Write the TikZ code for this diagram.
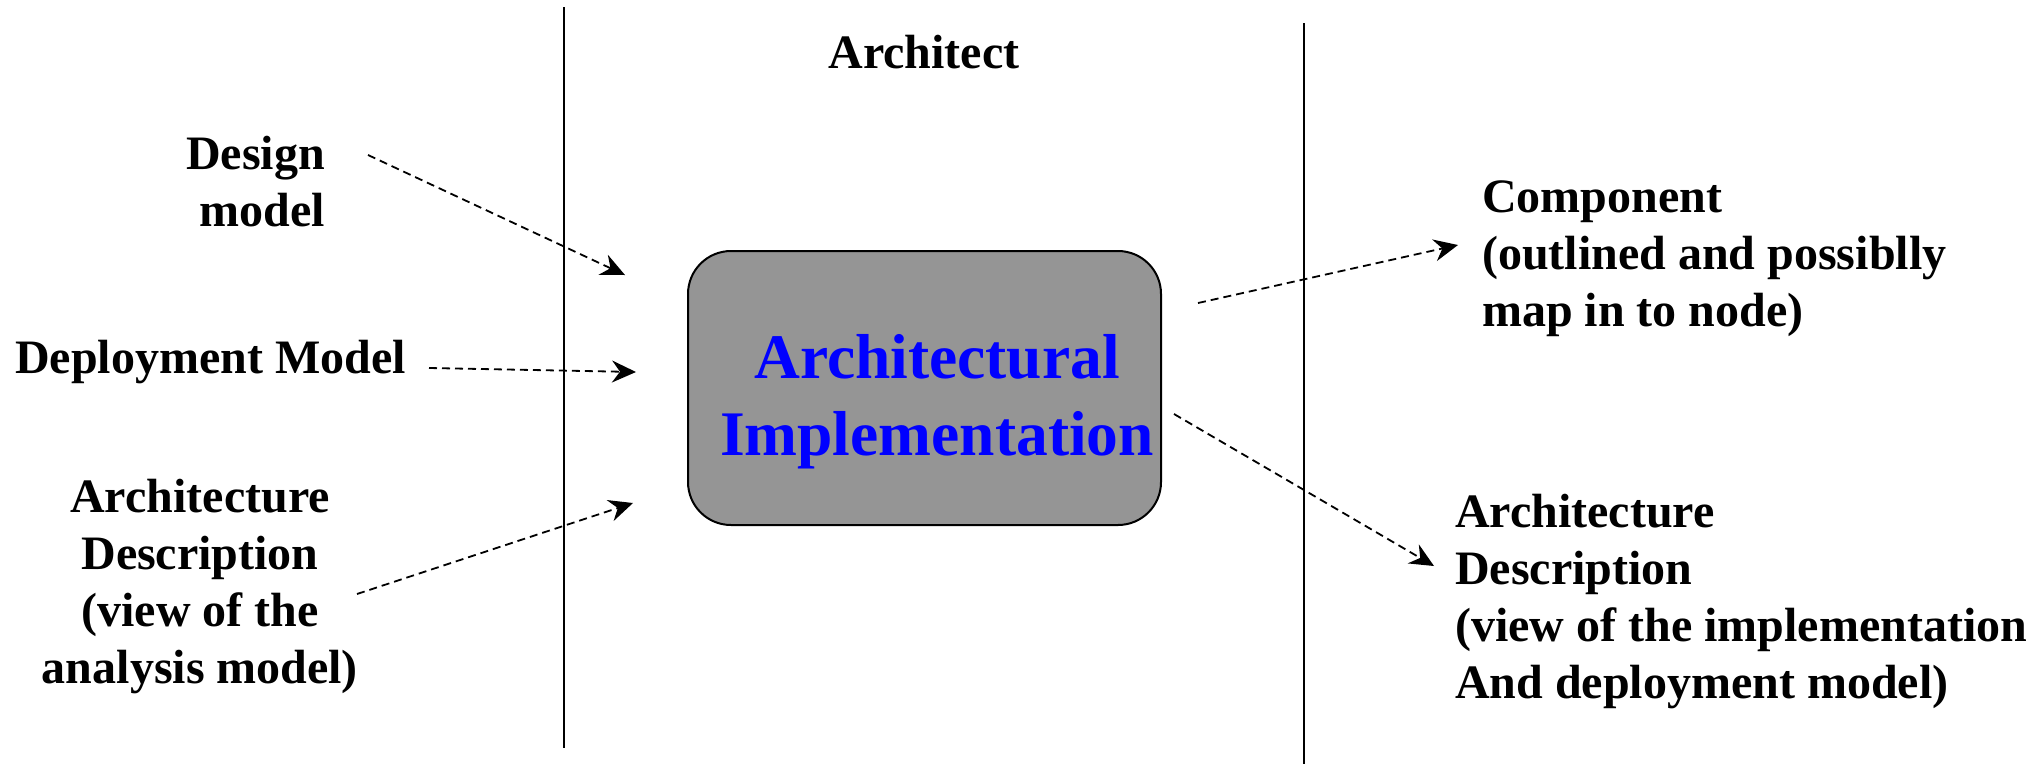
\documentclass[tikz,border=0pt]{standalone}
\usepackage{fontspec}
\setmainfont{Liberation Serif}
\usetikzlibrary{arrows.meta}
\definecolor{boxgray}{RGB}{149,149,149}
\begin{document}
\begin{tikzpicture}[x=1pt,y=-1pt,
  lbl/.style={font=\fontsize{48}{57}\selectfont\bfseries, inner sep=0pt},
  bigtxt/.style={font=\fontsize{63.5}{77}\selectfont\bfseries, text=blue, inner sep=0pt, align=center},
  flow/.style={line width=1.8pt, dash pattern=on 8pt off 5pt, -{Stealth[length=24pt,width=22pt,inset=8pt]}},
  divider/.style={line width=2pt},
  implbox/.style={draw, line width=2pt, fill=boxgray, rounded corners=43pt, minimum width=473pt, minimum height=274pt, inner sep=0pt}]
\useasboundingbox (0,0) rectangle (2036,764);
% dividers
\coordinate (l1top) at (564,7);
\coordinate (l1bot) at (564,748);
\coordinate (l2top) at (1304,23);
\coordinate (l2bot) at (1304,764);
\draw[divider] (l1top) -- (l1bot);
\draw[divider] (l2top) -- (l2bot);
% labels (base anchor = baseline of the last line)
\node[lbl, anchor=base] (arch) at (924,68) {Architect};
\node[lbl, anchor=base east, align=right] (design) at (325,226) {Design\\model};
\node[lbl, anchor=base west] (deploy) at (15,373) {Deployment Model};
\node[lbl, anchor=base, align=center] (adesc) at (200,683) {Architecture\\Description\\(view of the\\analysis model)};
\node[lbl, anchor=base west, align=left] (comp) at (1482,326) {Component\\(outlined and possiblly\\map in to node)};
\node[lbl, anchor=base west, align=left] (idesc) at (1455,698) {Architecture\\Description\\(view of the implementation\\And deployment model)};
% central box
\node[implbox] (impl) at (924.5,388) {};
\node[bigtxt, anchor=base] (impltext) at (937,455) {Architectural\\Implementation};
% arrow ends
\coordinate (d1s) at (368,155);
\coordinate (d1e) at (625,275);
\coordinate (d2s) at (429,368);
\coordinate (d2e) at (636,372);
\coordinate (d3s) at (357,594);
\coordinate (d3e) at (633,503);
\coordinate (c1s) at (1198,303);
\coordinate (c1e) at (1458,245);
\coordinate (c2s) at (1174,414);
\coordinate (c2e) at (1434,566);
\draw[flow] (d1s) -- (d1e);
\draw[flow] (d2s) -- (d2e);
\draw[flow] (d3s) -- (d3e);
\draw[flow] (c1s) -- (c1e);
\draw[flow] (c2s) -- (c2e);
\end{tikzpicture}
\end{document}
